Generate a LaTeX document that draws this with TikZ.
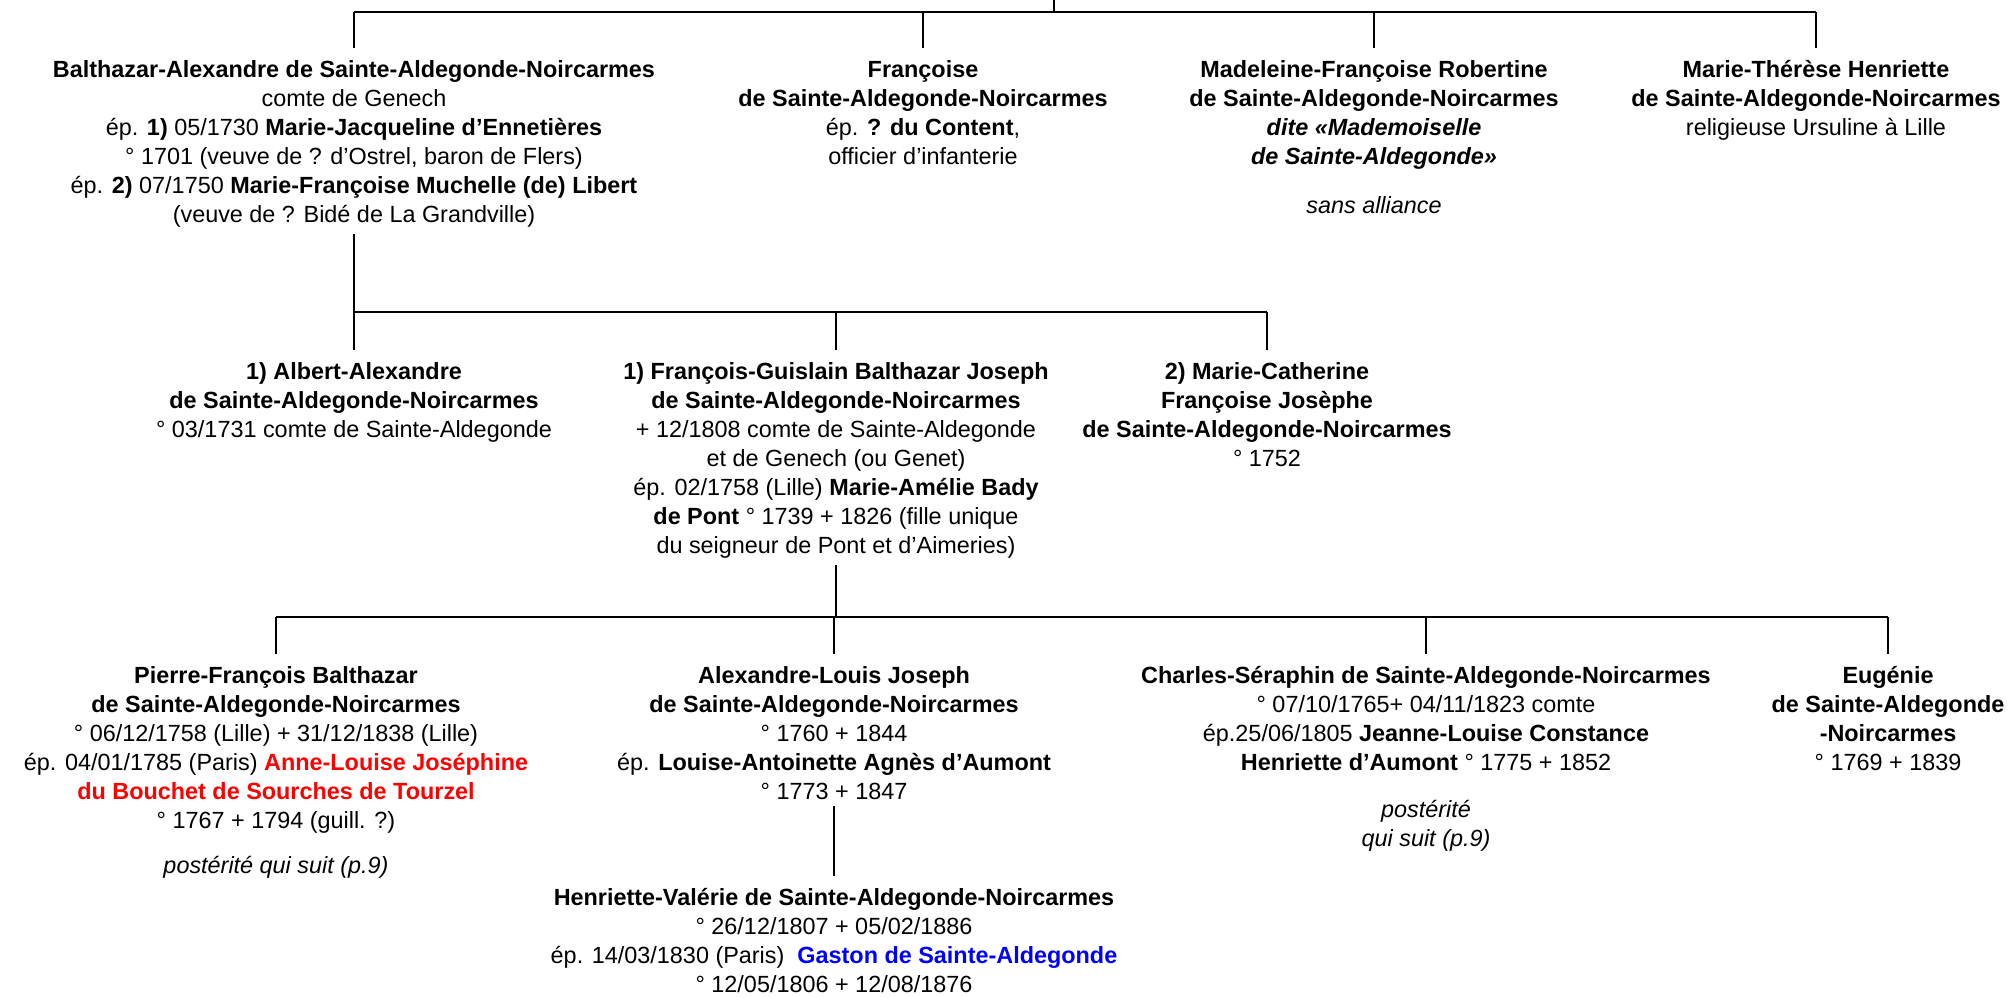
\documentclass[tikz,border=0pt]{standalone}
\usepackage{fontspec}
\setmainfont{Liberation Sans}
\definecolor{rougeep}{HTML}{FF0000}
\definecolor{bleuep}{HTML}{0000FF}

\begin{document}
\begin{tikzpicture}[x=0.5pt, y=-0.5pt,
  personne/.style={anchor=north, align=center, inner sep=0pt,
    font=\fontsize{11.7}{14.5}\selectfont},
  lien/.style={line width=1.4pt},
]
\useasboundingbox (0,0) rectangle (2016,997);
% generation 1
\node[personne] (balth) at (354,60) {\textbf{Balthazar-Alexandre de Sainte-Aldegonde-Noircarmes}\\
  comte de Genech\\
  ép. \textbf{1)} 05/1730 \textbf{Marie-Jacqueline d’Ennetières}\\
  ° 1701 (veuve de ? d’Ostrel, baron de Flers)\\
  ép. \textbf{2)} 07/1750 \textbf{Marie-Françoise Muchelle (de) Libert}\\
  (veuve de ? Bidé de La Grandville)};
\node[personne] (franc) at (923,60) {\textbf{Françoise}\\
  \textbf{de Sainte-Aldegonde-Noircarmes}\\
  ép. \textbf{? du Content},\\
  officier d’infanterie};
\node[personne] (madel) at (1374,60) {\textbf{Madeleine-Françoise Robertine}\\
  \textbf{de Sainte-Aldegonde-Noircarmes}\\
  \textbf{\textit{dite «Mademoiselle}}\\
  \textbf{\textit{de Sainte-Aldegonde»}}\\[10pt]
  \textit{sans alliance}};
\node[personne] (mth) at (1816,60) {\textbf{Marie-Thérèse Henriette}\\
  \textbf{de Sainte-Aldegonde-Noircarmes}\\
  religieuse Ursuline à Lille};

% generation 2
\node[personne] (albert) at (354,362) {\textbf{1) Albert-Alexandre}\\
  \textbf{de Sainte-Aldegonde-Noircarmes}\\
  ° 03/1731 comte de Sainte-Aldegonde};
\node[personne] (fguis) at (836,362) {\textbf{1) François-Guislain Balthazar Joseph}\\
  \textbf{de Sainte-Aldegonde-Noircarmes}\\
  + 12/1808 comte de Sainte-Aldegonde\\
  et de Genech (ou Genet)\\
  ép. 02/1758 (Lille) \textbf{Marie-Amélie Bady}\\
  \textbf{de Pont} ° 1739 + 1826 (fille unique\\
  du seigneur de Pont et d’Aimeries)};
\node[personne] (mcath) at (1267,362) {\textbf{2) Marie-Catherine}\\
  \textbf{Françoise Josèphe}\\
  \textbf{de Sainte-Aldegonde-Noircarmes}\\
  ° 1752};

% generation 3
\node[personne] (pierre) at (276,666) {\textbf{Pierre-François Balthazar}\\
  \textbf{de Sainte-Aldegonde-Noircarmes}\\
  ° 06/12/1758 (Lille) + 31/12/1838 (Lille)\\
  ép. 04/01/1785 (Paris) \textcolor{rougeep}{\textbf{Anne-Louise Joséphine}}\\
  \textcolor{rougeep}{\textbf{du Bouchet de Sourches de Tourzel}}\\
  ° 1767 + 1794 (guill. ?)\\[8pt]
  \textit{postérité qui suit (p.9)}};
\node[personne] (alexl) at (834,666) {\textbf{Alexandre-Louis Joseph}\\
  \textbf{de Sainte-Aldegonde-Noircarmes}\\
  ° 1760 + 1844\\
  ép. \textbf{Louise-Antoinette Agnès d’Aumont}\\
  ° 1773 + 1847};
\node[personne] (charles) at (1426,666) {\textbf{Charles-Séraphin de Sainte-Aldegonde-Noircarmes}\\
  ° 07/10/1765+ 04/11/1823 comte\\
  ép.25/06/1805 \textbf{Jeanne-Louise Constance}\\
  \textbf{Henriette d’Aumont} ° 1775 + 1852\\[9pt]
  \textit{postérité}\\
  \textit{qui suit (p.9)}};
\node[personne] (eugenie) at (1888,666) {\textbf{Eugénie}\\
  \textbf{de Sainte-Aldegonde}\\
  \textbf{-Noircarmes}\\
  ° 1769 + 1839};

% generation 4
\node[personne] (henv) at (834,888) {\textbf{Henriette-Valérie de Sainte-Aldegonde-Noircarmes}\\
  ° 26/12/1807 + 05/02/1886\\
  ép. 14/03/1830 (Paris) \ \textcolor{bleuep}{\textbf{Gaston de Sainte-Aldegonde}}\\
  ° 12/05/1806 + 12/08/1876};

% liens
\coordinate (racine) at (1054,0);
\coordinate (barA) at (1054,12);
\coordinate (barB) at (354,312);
\coordinate (barC) at (834,617);
\draw[lien] (racine) -- (barA);
\draw[lien] (balth.north |- barA) -- (mth.north |- barA);
\foreach \p in {balth,franc,madel,mth}
  \draw[lien] (\p.north |- barA) -- ([yshift=6pt]\p.north);
\draw[lien] ([yshift=-3pt]balth.south) -- (balth.south |- barB);
\draw[lien] (albert.north |- barB) -- (mcath.north |- barB);
\foreach \p in {albert,fguis,mcath}
  \draw[lien] (\p.north |- barB) -- ([yshift=6pt]\p.north);
\draw[lien] ([yshift=-3pt]fguis.south) -- (fguis.south |- barC);
\draw[lien] (pierre.north |- barC) -- (eugenie.north |- barC);
\foreach \p in {pierre,alexl,charles,eugenie}
  \draw[lien] (\p.north |- barC) -- ([yshift=6pt]\p.north);
\draw[lien] ([yshift=-3pt]alexl.south) -- ([yshift=6pt]henv.north);
\end{tikzpicture}
\end{document}
